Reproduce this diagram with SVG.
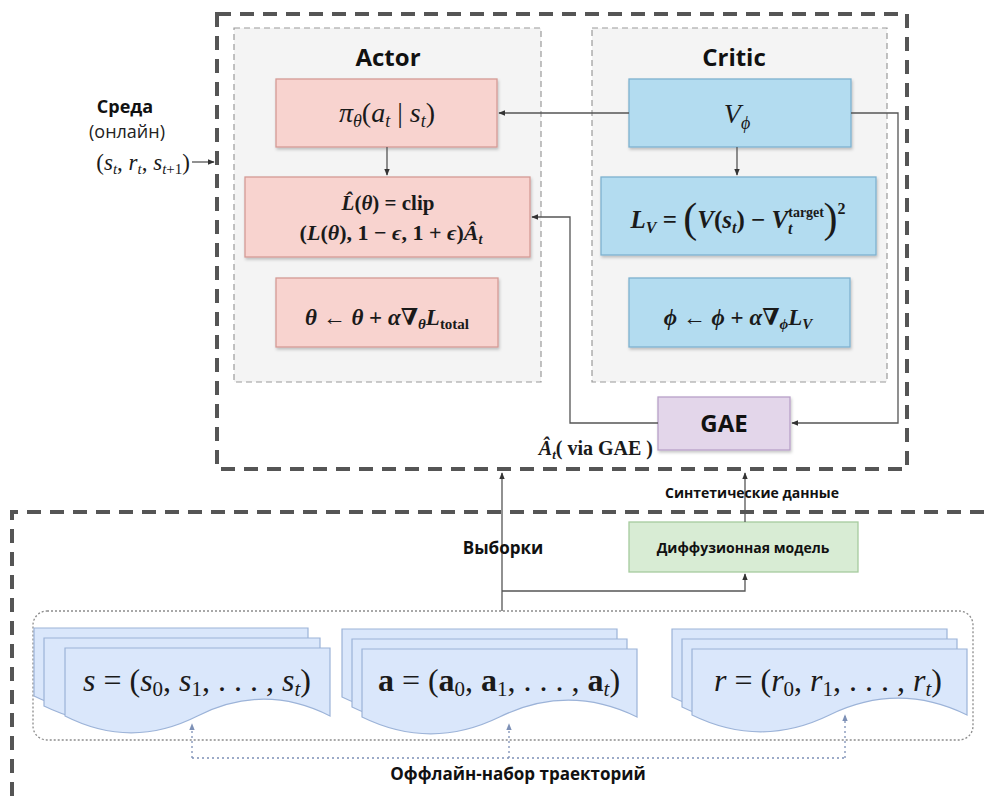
<svg xmlns="http://www.w3.org/2000/svg" width="985" height="796" viewBox="0 0 985 796">
<style>
.bigdash{fill:none;stroke:#555;stroke-width:4;stroke-dasharray:14 9}
.panel{fill:#f4f4f4;stroke:#9a9a9a;stroke-width:1.2;stroke-dasharray:6 4}
.pink{fill:#f8d3cf;stroke:#d49a95;stroke-width:1.3}
.blue{fill:#b3dcf0;stroke:#7eb1cf;stroke-width:1.3}
.purple{fill:#e3d6ea;stroke:#b8a0c8;stroke-width:1.3}
.green{fill:#d8ecd4;stroke:#a6cb9e;stroke-width:1.3}
.doc{fill:#dae7fb;stroke:#9cb3d8;stroke-width:1.2}
.conn{fill:none;stroke:#555;stroke-width:1.3}
.dot{fill:none;stroke:#7d90b6;stroke-width:1.3;stroke-dasharray:2 3}
.cont{fill:none;stroke:#8c8c8c;stroke-width:1.3;stroke-dasharray:2 2}
.ttl{font-family:"Open Sans","Liberation Sans",sans-serif;font-weight:bold;fill:#111;text-anchor:middle}
.lbl{font-family:"Open Sans","Liberation Sans",sans-serif;fill:#222;text-anchor:middle}
.m{font-family:"Liberation Serif","DejaVu Serif",serif;fill:#1a1a1a;text-anchor:middle}
.mb{font-family:"Liberation Serif","DejaVu Serif",serif;fill:#1a1a1a;text-anchor:middle;font-weight:bold}
.i{font-style:italic}
</style>
<defs>
<marker id="ah" viewBox="0 0 10 10" refX="9" refY="5" markerWidth="7" markerHeight="7" orient="auto-start-reverse" markerUnits="userSpaceOnUse">
<path d="M0,1 L10,5 L0,9 Z" fill="#333"/>
</marker>
<marker id="ahb" viewBox="0 0 10 10" refX="9" refY="5" markerWidth="7" markerHeight="7" orient="auto" markerUnits="userSpaceOnUse">
<path d="M0,1 L10,5 L0,9 Z" fill="#7d90b6"/>
</marker>
<filter id="sh" x="-10%" y="-10%" width="120%" height="130%">
<feDropShadow dx="1" dy="2" stdDeviation="1.5" flood-color="#000" flood-opacity="0.22"/>
</filter>
</defs>

<g id="frames">
<rect class="bigdash" x="217" y="14" width="690" height="455"/>
<path class="bigdash" d="M12,796 V512 H990"/>
</g>

<g id="actor-panel">
<rect class="panel" x="234" y="28" width="307" height="354"/>
<text class="ttl" x="388" y="66" font-size="24">Actor</text>
</g>
<g id="critic-panel">
<rect class="panel" x="592" y="28" width="295" height="354"/>
<text class="ttl" x="734" y="66" font-size="24">Critic</text>
</g>

<g id="policy">
<rect class="pink" x="276" y="79" width="221" height="68" filter="url(#sh)"/>
<text class="m" x="387" y="122" font-size="28"><tspan class="i">π</tspan><tspan class="i" font-size="18" dy="5">θ</tspan><tspan dy="-5">(</tspan><tspan class="i">a</tspan><tspan class="i" font-size="18" dy="5">t</tspan><tspan dy="-5"> | </tspan><tspan class="i">s</tspan><tspan class="i" font-size="18" dy="5">t</tspan><tspan dy="-5">)</tspan></text>
</g>

<g id="clip-loss">
<rect class="pink" x="245" y="177" width="285" height="80" filter="url(#sh)"/>
<text class="mb" x="388" y="210" font-size="21"><tspan class="i">L̂</tspan>(<tspan class="i">θ</tspan>) = clip</text>
<text class="mb" x="391" y="240" font-size="22">(<tspan class="i">L</tspan>(<tspan class="i">θ</tspan>), 1 − <tspan class="i">ϵ</tspan>, 1 + <tspan class="i">ϵ</tspan>)<tspan class="i">Â</tspan><tspan class="i" font-size="14" dy="4">t</tspan></text>
</g>

<g id="actor-update">
<rect class="pink" x="276" y="278" width="222" height="69" filter="url(#sh)"/>
<text class="mb" x="387" y="325" font-size="23"><tspan class="i">θ</tspan> ← <tspan class="i">θ</tspan> + <tspan class="i">α</tspan>∇<tspan class="i" font-size="15" dy="4">θ</tspan><tspan class="i" dy="-4">L</tspan><tspan font-size="15" dy="4">total</tspan></text>
</g>

<g id="value">
<rect class="blue" x="629" y="79" width="222" height="68" filter="url(#sh)"/>
<text class="m" x="737" y="123" font-size="28"><tspan class="i">V</tspan><tspan class="i" font-size="18" dy="6">ϕ</tspan></text>
</g>

<g id="value-loss">
<rect class="blue" x="601" y="177" width="275" height="78" filter="url(#sh)"/>
<text class="mb" x="738" y="228" font-size="25"><tspan class="i">L</tspan><tspan class="i" font-size="16" dy="5">V</tspan><tspan dy="-5"> = </tspan><tspan font-size="42" font-weight="normal" dy="4">(</tspan><tspan class="i" dy="-4">V</tspan>(<tspan class="i">s</tspan><tspan class="i" font-size="16" dy="5">t</tspan><tspan dy="-5">) − </tspan><tspan class="i">V</tspan><tspan font-size="14" dy="-11">target</tspan><tspan class="i" font-size="16" dx="-36" dy="17">t</tspan><tspan font-size="42" font-weight="normal" dx="31" dy="-2">)</tspan><tspan font-size="16" dy="-18">2</tspan></text>
</g>

<g id="critic-update">
<rect class="blue" x="629" y="278" width="221" height="69" filter="url(#sh)"/>
<text class="mb" x="738" y="325" font-size="23"><tspan class="i">ϕ</tspan> ← <tspan class="i">ϕ</tspan> + <tspan class="i">α</tspan>∇<tspan class="i" font-size="15" dy="4">ϕ</tspan><tspan class="i" dy="-4">L</tspan><tspan class="i" font-size="15" dy="4">V</tspan></text>
</g>

<g id="gae">
<rect class="purple" x="658" y="397" width="132" height="53" filter="url(#sh)"/>
<text class="ttl" x="724" y="432" font-size="24">GAE</text>
</g>

<g id="environment">
<text class="ttl" x="125" y="113" font-size="18">Среда</text>
<text class="lbl" x="127" y="138" font-size="18">(онлайн)</text>
<text class="m" x="190" y="170" font-size="23" style="text-anchor:end">(<tspan class="i">s</tspan><tspan class="i" font-size="15" dy="4">t</tspan><tspan dy="-4">, </tspan><tspan class="i">r</tspan><tspan class="i" font-size="15" dy="4">t</tspan><tspan dy="-4">, </tspan><tspan class="i">s</tspan><tspan class="i" font-size="15" dy="4">t</tspan><tspan font-size="15">+1</tspan><tspan dy="-4">)</tspan></text>
</g>

<g id="diffusion">
<rect class="green" x="629" y="522" width="229" height="50"/>
<text class="ttl" x="743" y="553" font-size="14">Диффузионная модель</text>
</g>

<g id="dataset">
<rect class="cont" x="33" y="611" width="940" height="129" rx="14"/>
<path class="doc" d="M34,628 H308 V696 Q239.5,662.4 171,696 Q102.5,729.6 34,696 Z"/>
<path class="doc" d="M44,638 H320 V706 Q251,672.4 182,706 Q113,739.6 44,706 Z"/>
<path class="doc" d="M65,648 H330 V716 Q263.75,682.4 197.5,716 Q131.25,749.6 65,716 Z"/>
<text class="m" x="197" y="691" font-size="32"><tspan class="i">s</tspan> = (<tspan class="i">s</tspan><tspan font-size="21" dy="5">0</tspan><tspan dy="-5">, </tspan><tspan class="i">s</tspan><tspan font-size="21" dy="5">1</tspan><tspan dy="-5">, . . . , </tspan><tspan class="i">s</tspan><tspan class="i" font-size="21" dy="5">t</tspan><tspan dy="-5">)</tspan></text>

<path class="doc" d="M342,629 H617 V697 Q548.25,663.4 479.5,697 Q410.75,730.6 342,697 Z"/>
<path class="doc" d="M352,639 H627 V707 Q558.25,673.4 489.5,707 Q420.75,740.6 352,707 Z"/>
<path class="doc" d="M362,649 H637 V717 Q568.25,683.4 499.5,717 Q430.75,750.6 362,717 Z"/>
<text class="m" x="499" y="691" font-size="32"><tspan font-weight="bold">a</tspan> = (<tspan font-weight="bold">a</tspan><tspan font-size="21" dy="5">0</tspan><tspan dy="-5">, </tspan><tspan font-weight="bold">a</tspan><tspan font-size="21" dy="5">1</tspan><tspan dy="-5">, . . . , </tspan><tspan font-weight="bold">a</tspan><tspan class="i" font-size="21" dy="5">t</tspan><tspan dy="-5">)</tspan></text>

<path class="doc" d="M672,629 H947 V697 Q878.25,663.4 809.5,697 Q740.75,730.6 672,697 Z"/>
<path class="doc" d="M682,639 H957 V707 Q888.25,673.4 819.5,707 Q750.75,740.6 682,707 Z"/>
<path class="doc" d="M692,649 H967 V715 Q898.25,681.4 829.5,715 Q760.75,748.6 692,715 Z"/>
<text class="m" x="828" y="691" font-size="32"><tspan class="i">r</tspan> = (<tspan class="i">r</tspan><tspan font-size="21" dy="5">0</tspan><tspan dy="-5">, </tspan><tspan class="i">r</tspan><tspan font-size="21" dy="5">1</tspan><tspan dy="-5">, . . . , </tspan><tspan class="i">r</tspan><tspan class="i" font-size="21" dy="5">t</tspan><tspan dy="-5">)</tspan></text>

<text class="ttl" x="518" y="780" font-size="17">Оффлайн-набор траекторий</text>
</g>

<g id="connectors">
<path class="conn" d="M629,113 H499" marker-end="url(#ah)"/>
<path class="conn" d="M387,147 V175" marker-end="url(#ah)"/>
<path class="conn" d="M737,147 V175" marker-end="url(#ah)"/>
<path class="conn" d="M851,113 H898 V423 H792" marker-end="url(#ah)"/>
<path class="conn" d="M658,423 H570 V217 H532" marker-end="url(#ah)"/>
<path class="conn" d="M192,162 H214" marker-end="url(#ah)"/>
<path class="conn" d="M502,611 V473" marker-end="url(#ah)"/>
<path class="conn" d="M502,591 H745 V574" marker-end="url(#ah)"/>
<path class="conn" d="M745,522 V473" marker-end="url(#ah)"/>
<path class="dot" d="M192,758 H845"/>
<path class="dot" d="M192,758 V724" marker-end="url(#ahb)"/>
<path class="dot" d="M509,758 V724" marker-end="url(#ahb)"/>
<path class="dot" d="M845,758 V715" marker-end="url(#ahb)"/>
<text class="m" x="653" y="455" font-size="20" font-weight="bold" style="text-anchor:end"><tspan class="i">Â</tspan><tspan class="i" font-size="13" dy="4">t</tspan><tspan dy="-4">( via GAE )</tspan></text>
<text class="ttl" x="503" y="554" font-size="17">Выборки</text>
<text class="ttl" x="752" y="498" font-size="14">Синтетические данные</text>
</g>
</svg>
